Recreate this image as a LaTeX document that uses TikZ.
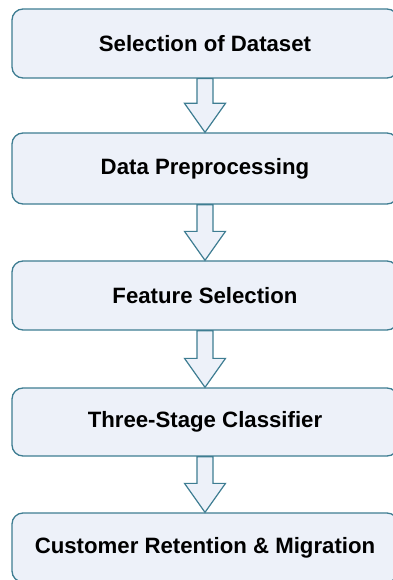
\documentclass[tikz,border=0pt]{standalone}
\usepackage{fontspec}
\setmainfont{Liberation Sans}
\usetikzlibrary{calc}
\definecolor{boxline}{HTML}{3E7D92}
\definecolor{boxfill}{HTML}{EDF1F9}
\tikzset{
  stagebox/.style={draw=boxline, fill=boxfill, line width=1.3pt, rounded corners=11pt,
    minimum width=386pt, minimum height=69pt, inner sep=0pt,
    font=\fontsize{22.2pt}{25pt}\selectfont\bfseries, text=black},
  blockarrow/.style={draw=boxline, fill=boxfill, line width=1.2pt, line join=miter}
}
\newcommand{\blockdown}[2]{%
  \draw[blockarrow] ($(#1.south)+(-8,0)$) -- ($(#1.south)+(8,0)$)
    -- ($(#2.north)+(8,29)$) -- ($(#2.north)+(20.5,29)$) -- (#2.north)
    -- ($(#2.north)+(-20.5,29)$) -- ($(#2.north)+(-8,29)$) -- cycle;}
\begin{document}
\begin{tikzpicture}[x=1pt,y=1pt]
\useasboundingbox (0,0) rectangle (392,-580);
\node[stagebox] (b1) at (205,-43.5) {Selection of Dataset};
\node[stagebox, minimum height=71pt] (b2) at (205,-168.5) {Data Preprocessing};
\node[stagebox] (b3) at (205,-295.5) {Feature Selection};
\node[stagebox, minimum height=68pt] (b4) at (205,-422) {Three-Stage Classifier};
\node[stagebox] (b5) at (205,-547.5) {Customer Retention \& Migration};
\blockdown{b1}{b2}
\blockdown{b2}{b3}
\blockdown{b3}{b4}
\blockdown{b4}{b5}
\end{tikzpicture}
\end{document}
